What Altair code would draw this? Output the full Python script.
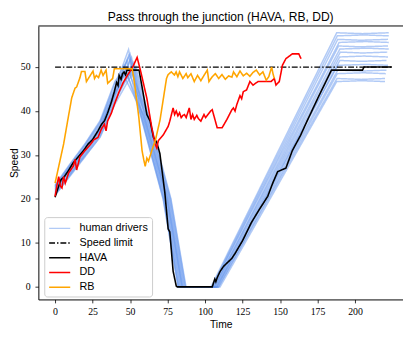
import altair as alt
import pandas as pd

# ---------------- data ----------------
hava_t = [0, 2, 4, 6, 9, 12, 15.5, 19, 22, 25, 28.6, 31, 33, 35, 37.5, 39.5, 41, 42, 42.7, 44, 45, 46,
          47, 48, 56, 58, 61.2, 63.4, 65.6, 67.8, 69.9, 73.2, 75.4, 76.5, 78.7, 80.8, 81.5, 104.8, 106.5,
          107.2, 108.1, 110, 112.4, 117.9, 120, 125, 131, 136, 141.8, 145, 148.4, 151, 153.9, 158.2,
          163.6, 168, 176, 184.3, 205, 206, 224.6]
hava_v = [20.4, 22.5, 24.4, 25.0, 26.5, 28.2, 29.6, 31.0, 32.5, 33.5, 35.5, 37.0, 37.8, 39.5, 42.0, 44.4,
          46.5, 45.8, 48.1, 47.2, 48.5, 48.9, 48.2, 49.3, 49.3, 45.5, 39.2, 37.7, 34.0, 32.9, 30.3, 21.4,
          13.2, 12.5, 3.6, 0.2, 0, 0, 1.8, 1.2, 2.1, 3.5, 4.7, 6.5, 7.6, 10.5, 14.7, 17.5, 20.6, 23.5,
          26.2, 26.6, 27.0, 31.0, 34.4, 37.7, 43.5, 49.3, 49.3, 50.0, 50.0]

dd_t = [0, 1.2, 2.4, 3.5, 4.6, 5.7, 6.8, 9, 12.2, 13.3, 14.4, 16.6, 19.9, 23.1, 26, 28.6, 31, 32.9, 34,
        35, 37.5, 39.5, 42.7, 45.5, 48.2, 51.5, 54.7, 56.9, 61.2, 64.5, 66.7, 67.8, 68.9, 72.2, 75.4,
        76.5, 78.7, 79.7, 80.8, 81.9, 83, 84.1, 85.2, 86.3, 87.4, 89.5, 90.6, 91.7, 92.8, 94.5, 95.5,
        97.2, 99.3, 100.4, 103.7, 104.8, 108.1, 111.4, 114.6, 117.9, 118.9, 120, 121.2, 123.3, 124.4,
        125.5, 127.7, 129.9, 132, 135.3, 144, 146.2, 147.3, 149.5, 151.6, 153.9, 158.2, 162.5, 164]
dd_v = [20.6, 23.0, 25.1, 22.9, 22.5, 25.1, 23.6, 25.9, 27.5, 29.0, 26.6, 29.6, 31.0, 32.2, 33.5, 34.0,
        36.0, 37.0, 35.5, 37.7, 39.5, 41.5, 44.4, 46.5, 48.1, 49.8, 52.2, 49.3, 42.9, 36.2, 32.5, 31.6,
        33.3, 34.6, 36.5, 37.7, 40.7, 39.2, 40.0, 38.9, 39.6, 38.5, 39.0, 39.2, 38.5, 40.7, 38.1, 39.2,
        38.1, 39.0, 38.3, 37.7, 39.2, 38.5, 40.0, 40.3, 36.2, 36.2, 38.1, 40.3, 40.7, 40.0, 41.5, 43.5,
        42.8, 44.4, 44.8, 46.7, 45.9, 46.7, 46.7, 47.4, 45.9, 46.7, 50.4, 51.9, 53.0, 53.0, 51.9]

rb_t = [0, 5.7, 8.5, 11.1, 13.3, 14.4, 16.6, 17.6, 19.9, 20.9, 23.1, 25.3, 26.3, 27.5, 29, 30.7, 32, 34,
        35.1, 38.4, 39.5, 51.4, 52.5, 55.8, 58, 59.1, 60.1, 61.2, 62.3, 64.5, 67, 70, 74.3, 75.4, 77.5,
        79.6, 80.7, 81.9, 83, 85.2, 87.4, 88.5, 90.6, 92.8, 95, 97.2, 99.3, 101.5, 102.6, 104.8, 106.9,
        109.1, 111.3, 113.5, 115.7, 117.9, 119, 121.2, 123.3, 125.5, 127.7, 129.9, 132, 134.2, 136.4,
        138.6, 140.8, 142.5, 144.4, 145.3, 146.2]
rb_v = [23.6, 32.5, 38.0, 43.0, 45.2, 45.5, 47.6, 49.0, 49.0, 46.7, 47.9, 49.1, 47.4, 48.1, 47.6, 49.3,
        48.1, 49.3, 46.3, 47.4, 49.6, 49.6, 47.5, 38.7, 31.0, 29.0, 27.4, 29.3, 28.6, 31.0, 33.5, 38.0,
        47.4, 48.3, 48.9, 48.2, 48.9, 47.8, 48.9, 47.4, 48.5, 47.6, 48.5, 46.7, 48.1, 46.9, 48.1, 49.3,
        46.7, 47.8, 48.5, 47.4, 48.3, 47.2, 48.0, 47.7, 48.9, 47.8, 49.1, 48.0, 48.6, 47.9, 48.8, 49.3,
        48.2, 48.9, 47.0, 47.8, 50.0, 48.5, 47.4]

limit_t = [0, 224.6]
limit_v = [50, 50]

human_01 = [(0, 23.0), (10, 27.8), (20, 32.4), (30, 37.5), (40, 45.5), (49, 54.0), (57.5, 39.0), (72.5, 20.0), (82.5, 0), (104, 0), (130, 17.9), (150, 31.7), (170, 45.5), (187.8, 57.8), (205, 57.6), (222.5, 57.8)]
human_02 = [(0, 22.4), (10, 27.0), (20, 31.8), (30, 36.8), (40, 45.0), (50, 53.0), (58.5, 39.0), (73.5, 20.0), (83.5, 0), (104.5, 0), (130, 17.4), (150, 31.0), (170, 44.7), (188.2, 57.1), (206, 57.3), (222.5, 57.1)]
human_03 = [(0, 21.8), (10, 26.4), (20, 31.0), (30, 35.9), (40, 44.2), (48, 51.5), (57.0, 39.0), (72.0, 20.0), (82.0, 0), (105, 0), (130, 16.9), (150, 30.3), (170, 43.8), (188.5, 56.3), (204, 56.1), (222, 56.3)]
human_04 = [(0, 22.9), (10, 27.6), (20, 32.2), (30, 37.2), (40, 46.5), (46, 50.5), (57.2, 39.0), (72.2, 20.0), (82.2, 0), (105, 0), (130, 16.5), (150, 29.7), (170, 42.8), (189.4, 55.6), (207, 55.8), (222.5, 55.6)]
human_05 = [(0, 21.2), (10, 25.8), (20, 30.2), (30, 35.0), (40, 43.0), (51, 52.2), (59.5, 39.0), (74.5, 20.0), (84.5, 0), (106, 0), (130, 15.8), (150, 29.0), (170, 42.2), (189.1, 54.8), (203, 54.6), (222, 54.8)]
human_06 = [(0, 22.6), (10, 27.3), (20, 31.6), (30, 36.3), (40, 44.8), (49, 52.6), (58.0, 39.0), (73.0, 20.0), (83.0, 0), (106, 0), (130, 15.5), (150, 28.4), (170, 41.3), (189.9, 54.1), (208, 54.3), (222.5, 54.1)]
human_07 = [(0, 20.8), (10, 25.2), (20, 29.6), (30, 34.2), (40, 42.0), (52, 51.0), (60.5, 39.0), (75.5, 20.0), (85.5, 0), (106.5, 0), (130, 15.0), (150, 27.8), (170, 40.6), (190.2, 53.4), (205, 53.2), (221.5, 53.4)]
human_08 = [(0, 22.0), (10, 26.8), (20, 31.2), (30, 35.6), (40, 43.6), (47, 49.2), (58.8, 39.0), (74.0, 20.0), (84.0, 0), (107, 0), (130, 14.5), (150, 27.2), (170, 39.8), (189.8, 52.3), (206, 52.5), (222, 52.3)]
human_09 = [(0, 21.4), (10, 25.6), (20, 30.0), (30, 34.6), (40, 42.5), (53, 50.4), (61.5, 39.0), (76.5, 20.0), (86.5, 0), (107.5, 0), (130, 14.1), (150, 26.6), (170, 39.1), (189.9, 51.5), (204, 51.3), (221, 51.5)]
human_10 = [(0, 23.2), (10, 28.0), (20, 32.6), (30, 37.8), (40, 46.8), (45, 48.6), (59.2, 39.0), (74.8, 20.0), (84.8, 0), (108, 0), (130, 13.8), (150, 26.3), (170, 38.8), (188.6, 50.4), (207, 50.6), (222, 50.4)]
human_11 = [(0, 21.6), (10, 26.0), (20, 30.6), (30, 35.4), (40, 43.8), (50, 51.8), (59.8, 39.0), (75.0, 20.0), (85.0, 0), (108, 0), (130, 13.5), (150, 25.7), (170, 37.9), (188.5, 49.3), (205, 49.1), (221, 49.3)]
human_12 = [(0, 22.2), (10, 26.6), (20, 30.8), (30, 35.8), (40, 44.0), (48, 49.8), (60.8, 39.0), (76.0, 20.0), (86.0, 0), (109, 0), (130, 12.9), (150, 25.1), (170, 37.3), (188.2, 48.5), (206, 48.7), (220.5, 48.5)]
human_13 = [(0, 20.9), (10, 25.4), (20, 29.8), (30, 34.0), (40, 41.6), (54, 50.0), (62.3, 39.0), (77.3, 20.0), (87.3, 0), (109, 0), (130, 12.6), (150, 24.6), (170, 36.6), (188, 47.4), (204, 47.2), (220, 47.4)]
human_14 = [(0, 22.7), (10, 27.2), (20, 31.4), (30, 36.0), (40, 44.4), (51, 48.8), (61.8, 39.0), (77.0, 20.0), (87.0, 0), (110, 0), (130, 12.0), (150, 24.0), (170, 36.0), (187.8, 46.7), (205, 46.9), (220, 46.7)]

series_names = ["human drivers", "Speed limit", "HAVA", "DD", "RB"]
series_colors = ["rgba(100,149,237,0.5)", "black", "black", "red", "orange"]
series_dash = [[1, 0], [6, 2, 1.5, 2], [1, 0], [1, 0], [1, 0]]
series_width = [1.5, 1.2, 1.6, 1.6, 1.6]

x_ticks = [0, 25, 50, 75, 100, 125, 150, 175, 200]
y_ticks = [0, 10, 20, 30, 40, 50]

# ---------------- table ----------------
rows = []
humans = [human_01, human_02, human_03, human_04, human_05, human_06, human_07,
          human_08, human_09, human_10, human_11, human_12, human_13, human_14]
for k, pts in enumerate(humans):
    for i, (t, v) in enumerate(pts):
        rows.append({"series": "human drivers", "line": f"h{k}", "t": t, "v": v, "i": i})
for name, ts, vs in [("Speed limit", limit_t, limit_v), ("HAVA", hava_t, hava_v),
                     ("DD", dd_t, dd_v), ("RB", rb_t, rb_v)]:
    for i, (t, v) in enumerate(zip(ts, vs)):
        rows.append({"series": name, "line": name, "t": t, "v": v, "i": i})
df = pd.DataFrame(rows)

W, H = 372, 279
Y_TOP = -2.85 + H / 4.486

x_enc = alt.X("t:Q", scale=alt.Scale(domain=[-11.13, 232.0], nice=False, zero=False),
              axis=alt.Axis(values=x_ticks, title="Time", format="d"))
y_enc = alt.Y("v:Q", scale=alt.Scale(domain=[-2.85, Y_TOP], nice=False, zero=False),
              axis=alt.Axis(values=y_ticks, title="Speed", format="d"))
color_enc = alt.Color("series:N", scale=alt.Scale(domain=series_names, range=series_colors), title=None)
dash_enc = alt.StrokeDash("series:N", scale=alt.Scale(domain=series_names, range=series_dash), title=None)

base = alt.Chart(df)

def layer(name, sw):
    return base.transform_filter(alt.datum.series == name).mark_line(clip=True, strokeWidth=sw).encode(
        x=x_enc, y=y_enc, color=color_enc, strokeDash=dash_enc, detail="line:N", order="i:Q")

top_line = alt.Chart(pd.DataFrame({"a": [0]})).mark_rule(color="black", strokeWidth=1).encode(
    x=alt.value(0), x2=alt.value(W), y=alt.value(0))

chart = alt.layer(*[layer(n, w) for n, w in zip(series_names, series_width)], top_line).properties(
    width=W, height=H,
    title=alt.Title("Pass through the junction (HAVA, RB, DD)", font="Liberation Sans",
                    fontSize=12.3, fontWeight="normal", color="black", offset=2),
    autosize=alt.AutoSizeParams(type="none"),
    padding={"left": 31, "top": 15, "right": 0, "bottom": 36},
).configure_view(stroke=None).configure_axis(
    labelFont="Liberation Serif", labelFontSize=10, labelColor="black",
    titleFont="Liberation Sans", titleFontSize=10.5, titleFontWeight="normal", titleColor="black",
    domainColor="black", domainWidth=1, tickColor="black", tickSize=3.5, tickWidth=0.8,
    grid=False, labelPadding=4,
).configure_axisY(titlePadding=1, labelPadding=5).configure_axisX(titlePadding=3).configure_legend(
    orient="none", legendX=6, legendY=195, fillColor="white", strokeColor="#cccccc",
    cornerRadius=3, padding=4, labelFont="Liberation Sans", labelFontSize=11, labelColor="black",
    symbolType="M-1,0H2.3", symbolSize=170, symbolStrokeWidth=1.5, labelOffset=17, rowPadding=2,
)

chart.save("out.html", embed_options={"renderer": "svg", "actions": False})
